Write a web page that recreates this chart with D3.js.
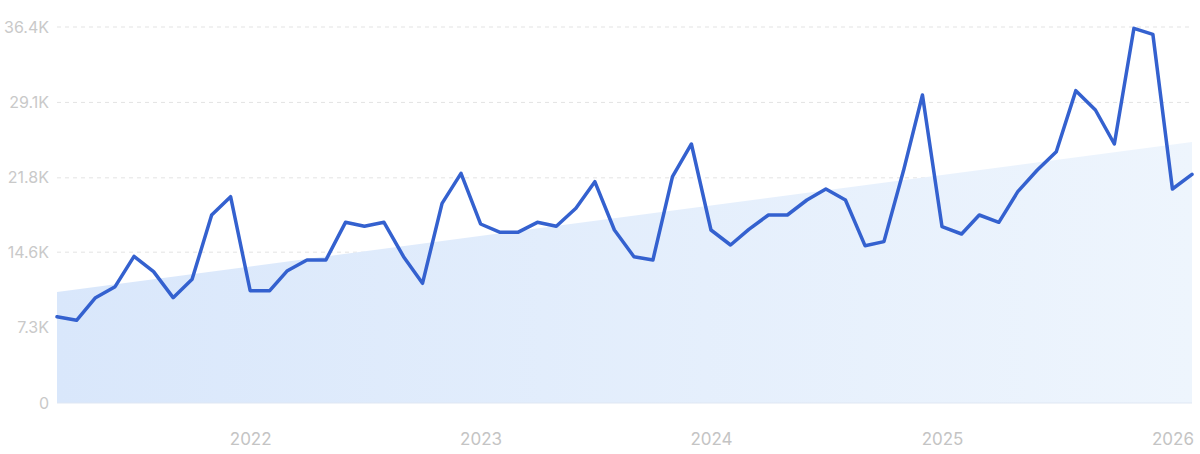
<!DOCTYPE html>
<html>
<head>
<meta charset="utf-8">
<script src="https://cdn.jsdelivr.net/npm/d3@7"></script>
<style>
  html, body { margin: 0; padding: 0; background: #ffffff; }
  svg { display: block; }
</style>
</head>
<body>
<svg id="chart" width="1200" height="454"></svg>
<script>
// ---- data ----
const startMonth = "2021-03";
const monthlyValues = [
  8355, 8006, 10197, 11262, 14200, 12714, 10197, 11972, 18200, 19975,
  10875, 10875, 12810, 13844, 13844, 17490, 17103, 17490, 14166, 11585,
  19330, 22234, 17330, 16522, 16522, 17490, 17103, 18846, 21427, 16748,
  14166, 13844, 21911, 25074, 16748, 15296, 16813, 18200, 18200, 19652,
  20717, 19652, 15230, 15620, 22500, 29818, 17070, 16361, 18200, 17490,
  20459, 22556, 24331, 30238, 28365, 25074, 36271, 35690, 20717, 22137
];
const trendValues = [10750, 25270];           // trend band at first and last month
const yTickValues = [0, 7300, 14600, 21800, 29100, 36400];
const yTickLabels = ["0", "7.3K", "14.6K", "21.8K", "29.1K", "36.4K"];
const xTickYears = [2022, 2023, 2024, 2025, 2026];

// ---- build ----
const parse = d3.timeParse("%Y-%m");
const t0 = parse(startMonth);
const series = monthlyValues.map((v, i) => ({ date: d3.timeMonth.offset(t0, i), value: v }));
const lastDate = series[series.length - 1].date;
const trend = [
  { date: t0, value: trendValues[0] },
  { date: lastDate, value: trendValues[1] }
];

const svg = d3.select("#chart");
const mLeft = 57, mRight = 1192, mTop = 27, mBottom = 403;

const x = d3.scaleTime().domain([t0, lastDate]).range([mLeft, mRight]);
const y = d3.scaleLinear().domain([0, 36400]).range([mBottom, mTop]);

// gradient for trend area
const defs = svg.append("defs");
const grad = defs.append("linearGradient").attr("id", "areaGrad")
  .attr("x1", "0%").attr("x2", "100%").attr("y1", "0%").attr("y2", "0%");
grad.append("stop").attr("offset", "0%").attr("stop-color", "#d9e7fb");
grad.append("stop").attr("offset", "100%").attr("stop-color", "#eef5fd");

// grid lines
const grid = svg.append("g");
grid.selectAll("line")
  .data(yTickValues.filter(v => v > 0))
  .join("line")
  .attr("x1", mLeft).attr("x2", mRight)
  .attr("y1", d => y(d)).attr("y2", d => y(d))
  .attr("stroke", "#e3e3e3")
  .attr("stroke-width", 1)
  .attr("stroke-dasharray", "4,4");

// trend area
const area = d3.area().x(d => x(d.date)).y0(y(0)).y1(d => y(d.value));
svg.append("path").datum(trend)
  .attr("d", area)
  .attr("fill", "url(#areaGrad)");

// baseline
svg.append("line")
  .attr("x1", mLeft).attr("x2", mRight)
  .attr("y1", y(0)).attr("y2", y(0))
  .attr("stroke", "#dfe7f3").attr("stroke-width", 1);

// y axis labels
const yAxis = d3.axisLeft(y)
  .tickValues(yTickValues)
  .tickFormat((d, i) => yTickLabels[i])
  .tickSize(0)
  .tickPadding(8);
const gy = svg.append("g").attr("transform", `translate(${mLeft},0)`).call(yAxis);
gy.select(".domain").remove();
gy.selectAll("text")
  .attr("fill", "#c9c9c9")
  .style("font-family", "Inter, 'Open Sans', sans-serif")
  .style("font-size", "16px");

// x axis labels
const xAxis = d3.axisBottom(x)
  .tickValues(xTickYears.map(yv => new Date(yv, 0, 1)))
  .tickFormat(d3.timeFormat("%Y"))
  .tickSize(0)
  .tickPadding(30);
const gx = svg.append("g").attr("transform", `translate(0,${mBottom})`).call(xAxis);
gx.select(".domain").remove();
gx.selectAll("text")
  .attr("fill", "#c4c4c4")
  .style("font-family", "Inter, 'Open Sans', sans-serif")
  .style("font-size", "17px");

// main line
const line = d3.line().x(d => x(d.date)).y(d => y(d.value));
svg.append("path").datum(series)
  .attr("d", line)
  .attr("fill", "none")
  .attr("stroke", "#3461cf")
  .attr("stroke-width", 3.5)
  .attr("stroke-linejoin", "round")
  .attr("stroke-linecap", "round");
</script>
</body>
</html>
